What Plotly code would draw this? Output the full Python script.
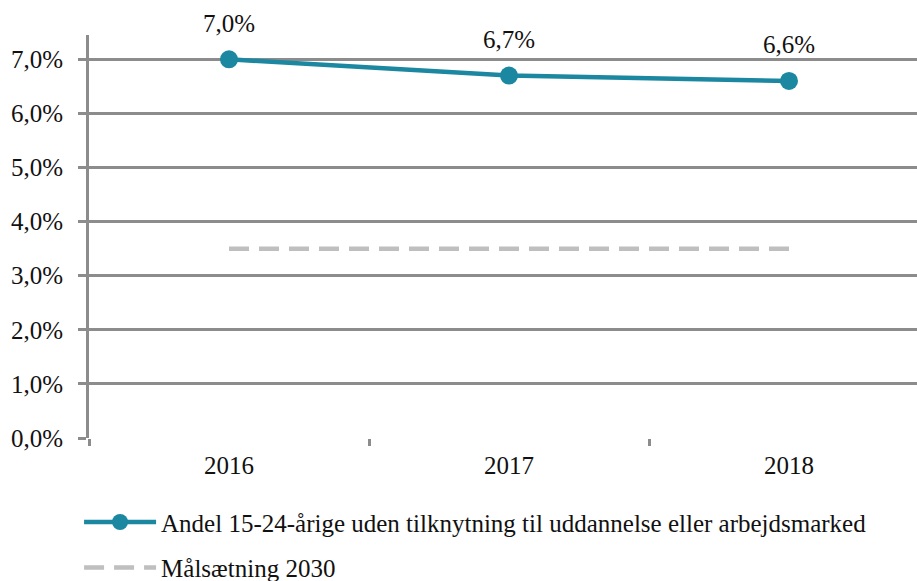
import plotly.graph_objects as go

years = ["2016", "2017", "2018"]
andel = [0.070, 0.067, 0.066]
maal = [0.035, 0.035, 0.035]

serie_navn = "Andel 15-24-årige uden tilknytning til uddannelse eller arbejdsmarked"
maal_navn = "Målsætning 2030"

serif = "Liberation Serif"
tekst = dict(family=serif, size=25, color="#111111")
grid_col = "#8c8c8c"

fig = go.Figure()

fig.add_trace(
    go.Scatter(
        x=years,
        y=andel,
        name=serie_navn,
        legendgroup="a",
        mode="lines+markers",
        line=dict(color="#1b87a0", width=4.5),
        marker=dict(size=18, color="#1b87a0"),
        cliponaxis=False,
    )
)
fig.add_trace(
    go.Scatter(
        x=years,
        y=maal,
        name=maal_navn,
        legendgroup="b",
        mode="lines",
        line=dict(color="#bfbfbf", width=4.5, dash="20px,10px"),
    )
)

# dataetiketter over punkterne (kategori-indeks på x-aksen)
for i, v in enumerate(andel):
    fig.add_annotation(
        x=i,
        y=v,
        text=f"{v * 100:.1f}%".replace(".", ","),
        showarrow=False,
        yshift=36,
        font=tekst,
    )

fig.update_layout(
    width=917,
    height=581,
    margin=dict(l=89, r=0, t=35, b=143, autoexpand=False),
    paper_bgcolor="white",
    plot_bgcolor="white",
    separators=",.",
    font=tekst,
    showlegend=True,
    legend=dict(
        orientation="v",
        x=-0.012,
        xanchor="left",
        y=-0.152,
        yanchor="top",
        font=tekst,
        tracegroupgap=10,
        itemwidth=72,
    ),
)

fig.update_xaxes(
    type="category",
    range=[-0.5, -0.5 + 828 / 280],
    tickson="boundaries",
    ticks="outside",
    ticklen=7,
    tickwidth=3,
    tickcolor=grid_col,
    ticklabelstandoff=10,
    showline=False,
    showgrid=False,
    zeroline=False,
    tickfont=tekst,
    automargin=False,
)
fig.update_yaxes(
    range=[0, 7.45 / 100],
    dtick=0.01,
    tickformat=".1%",
    showgrid=True,
    gridcolor=grid_col,
    gridwidth=3,
    showline=True,
    linecolor=grid_col,
    linewidth=3,
    ticks="outside",
    ticklen=8,
    tickwidth=3,
    tickcolor=grid_col,
    ticklabelstandoff=10,
    zeroline=False,
    tickfont=tekst,
    automargin=False,
)

fig.write_html(
    "out.html",
    config={"displayModeBar": False},
    post_script="document.body.style.margin='0';",
)
